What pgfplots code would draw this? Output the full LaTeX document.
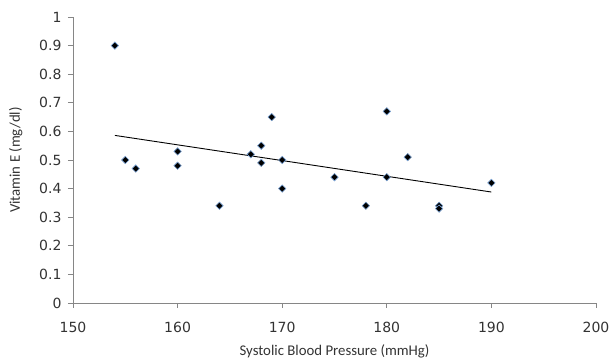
\documentclass[border=0pt]{standalone}
\usepackage{pgfplots}
\pgfplotsset{compat=1.18}
\usepackage{fontspec}
\setmainfont{Carlito}
\newfontfamily\tickfont{DejaVu Sans}
\definecolor{axgray}{RGB}{134,134,134}
\definecolor{mkedge}{RGB}{120,160,210}
\begin{document}
\begin{tikzpicture}
\useasboundingbox (-73pt,-60pt) rectangle (538pt,303pt);
\begin{axis}[
  at={(0,0)}, anchor=origin,
  scale only axis, width=523pt, height=286pt,
  xmin=150, xmax=200, ymin=0, ymax=1,
  xtick={150,160,...,200},
  ytick={0,0.1,...,1.0},
  yticklabels={0,0.1,0.2,0.3,0.4,0.5,0.6,0.7,0.8,0.9,1},
  axis lines*=left,
  axis line style={axgray, line width=0.8pt, -},
  tick style={axgray, line width=0.8pt},
  tick align=outside, major tick length=5pt,
  /pgf/number format/assume math mode=true,
  ticklabel style={font=\tickfont\fontsize{14}{16}\selectfont, text=black!80},
  xticklabel style={yshift=-11pt},
  yticklabel style={xshift=-3pt},
  xlabel={Systolic Blood Pressure (mmHg)},
  ylabel={Vitamin E (mg/dl)},
  label style={font=\fontsize{14.8}{17}\selectfont, text=black!80},
  xlabel style={yshift=-5pt},
  ylabel style={yshift=10pt},
  clip=false,
]
\addplot[only marks, mark=square*, mark size=2.6pt, mark options={rotate=45, fill=black, draw=mkedge, line width=0.6pt}]
coordinates {
(154,0.90) (155,0.50) (156,0.47) (160,0.53) (160,0.48) (164,0.34)
(167,0.52) (168,0.55) (168,0.49) (169,0.65) (170,0.50) (170,0.40)
(175,0.44) (178,0.34) (180,0.67) (180,0.44) (182,0.51) (185,0.34)
(185,0.33) (190,0.42)
};
\addplot[black, line width=0.9pt] coordinates {(154,0.586) (190,0.388)};
\end{axis}
\end{tikzpicture}
\end{document}
